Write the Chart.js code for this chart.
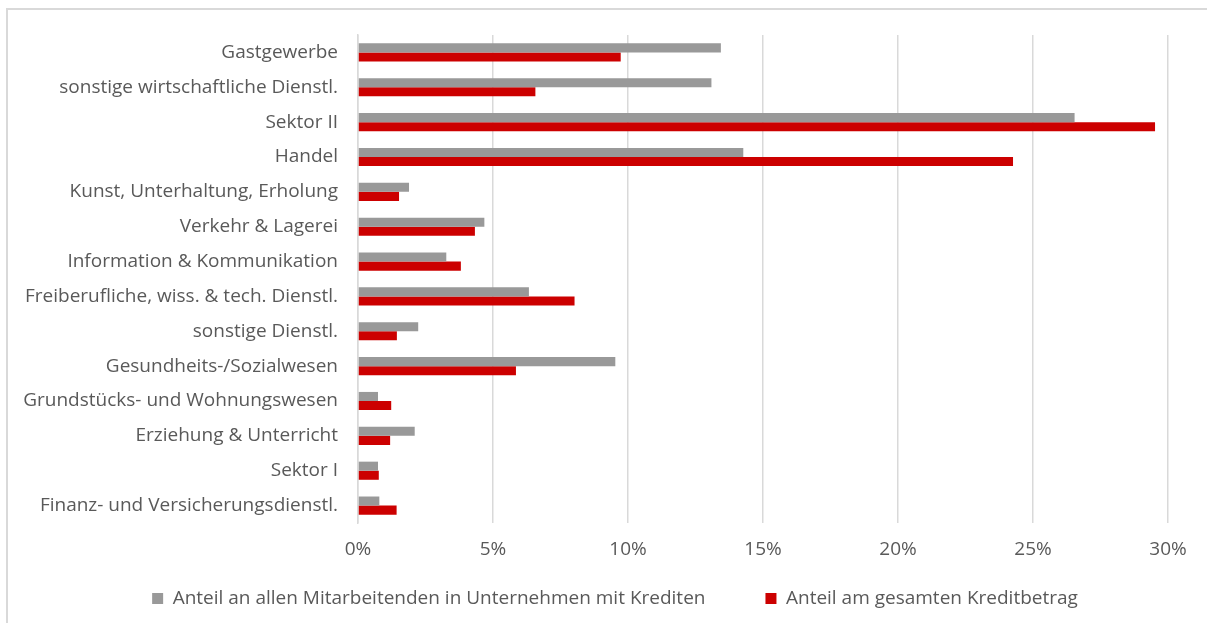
<!DOCTYPE html>
<html>
<head>
<meta charset="utf-8">
<script src="https://cdn.jsdelivr.net/npm/chart.js@4"></script>
<style>
  html, body { margin: 0; padding: 0; background: #fff; overflow: hidden; }
  #frame {
    position: absolute; left: 6px; top: 8px; width: 1300px; height: 700px;
    border-top: 2px solid #d9d9d9; border-left: 2px solid #d9d9d9;
  }
  #grafik { position: absolute; left: 0; top: 0; }
</style>
</head>
<body>
<div id="frame"></div>
<canvas id="grafik" width="1207" height="623"></canvas>
<script>
// Branchen, von oben nach unten
const branchen = [
    "Gastgewerbe",
    "sonstige wirtschaftliche Dienstl.",
    "Sektor II",
    "Handel",
    "Kunst, Unterhaltung, Erholung",
    "Verkehr & Lagerei",
    "Information & Kommunikation",
    "Freiberufliche, wiss. & tech. Dienstl.",
    "sonstige Dienstl.",
    "Gesundheits-/Sozialwesen",
    "Grundstücks- und Wohnungswesen",
    "Erziehung & Unterricht",
    "Sektor I",
    "Finanz- und Versicherungsdienstl."
];

// Anteil an allen Mitarbeitenden in Unternehmen mit Krediten (%)
const anteilMitarbeitende = [13.44, 13.09, 26.54, 14.27, 1.89, 4.68, 3.27, 6.33, 2.23, 9.53, 0.74, 2.10, 0.74, 0.79];

// Anteil am gesamten Kreditbetrag (%)
const anteilKredit = [9.73, 6.57, 29.52, 24.26, 1.52, 4.33, 3.81, 8.02, 1.44, 5.85, 1.23, 1.19, 0.77, 1.43];

const xTicks = [0, 5, 10, 15, 20, 25, 30];

const textFarbe = "#595959";
const schrift = "'Open Sans', 'Noto Sans', sans-serif";

// legend padding is large (gap between the two items), so pull it back up
// and nudge it right (the trailing padding pushes it off centre)
const legendeHoch = {
    id: "legendeHoch",
    afterLayout(chart) {
        chart.legend.top -= 32;
        chart.legend.left += 26;
        chart.legend.right += 26;
    }
};

new Chart(document.getElementById("grafik"),
{
    type: "bar",
    data: {
        labels: branchen,
        datasets: [
            {
                label: "Anteil an allen Mitarbeitenden in Unternehmen mit Krediten",
                data: anteilMitarbeitende,
                backgroundColor: "#999999",
                borderWidth: 0
            },
            {
                label: "Anteil am gesamten Kreditbetrag",
                data: anteilKredit,
                backgroundColor: "#cc0000",
                borderWidth: 0
            }
        ]
    },
    plugins: [legendeHoch],
    options: {
        indexAxis: "y",
        responsive: false,
        animation: false,
        layout: { padding: { left: 10, right: 39, top: 35, bottom: 0 } },
        datasets: { bar: { categoryPercentage: 0.52, barPercentage: 1 } },
        scales: {
            x: {
                min: 0,
                max: 30,
                afterBuildTicks: function(scale) {
                    scale.ticks = xTicks.map(v => ({ value: v }));
                },
                afterFit: function(scale) { scale.height = 38; },
                grid: { color: "#d9d9d9", lineWidth: 1.5, drawTicks: false },
                border: { display: false },
                ticks: {
                    color: textFarbe,
                    font: { family: schrift, size: 19 },
                    padding: 15,
                    minRotation: 0,
                    maxRotation: 0,
                    callback: v => v + "%"
                }
            },
            y: {
                afterFit: function(scale) { scale.width = 348; },
                grid: { display: false, drawTicks: false },
                border: { display: true, color: "#d9d9d9", width: 1.5 },
                ticks: {
                    color: textFarbe,
                    font: { family: schrift, size: 19 },
                    padding: 20,
                    autoSkip: false
                }
            }
        },
        plugins: {
            legend: {
                position: "bottom",
                maxHeight: 62,
                labels: {
                    color: textFarbe,
                    font: { family: schrift, size: 19 },
                    boxWidth: 11,
                    boxHeight: 11,
                    padding: 60
                }
            },
            tooltip: { enabled: false }
        }
    }
});
</script>
</body>
</html>
